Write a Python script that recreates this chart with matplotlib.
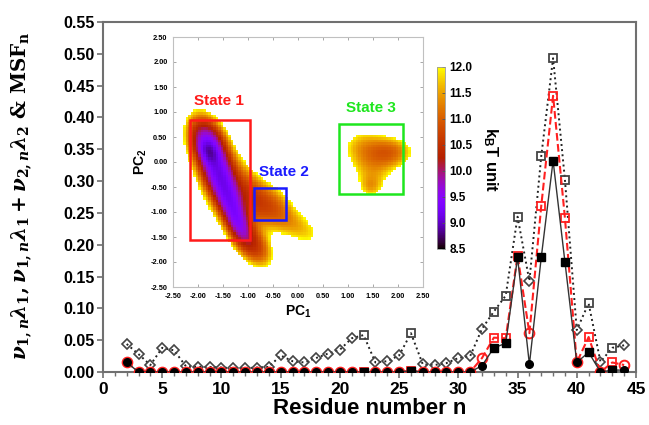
import numpy as np
import matplotlib
matplotlib.use("Agg")
import matplotlib.pyplot as plt
from matplotlib.patches import Rectangle

plt.rcParams['font.family'] = ['Liberation Sans', 'DejaVu Sans']
plt.rcParams['font.weight'] = 'bold'
plt.rcParams['mathtext.fontset'] = 'custom'
plt.rcParams['mathtext.rm'] = 'DejaVu Serif:bold'
plt.rcParams['mathtext.it'] = 'DejaVu Serif:italic:bold'
plt.rcParams['mathtext.bf'] = 'DejaVu Serif:bold'

# residue numbers 2..44
residues = np.arange(2, 45)
square_res = [22, 26, 33, 34, 35, 37, 38, 39, 41, 43]

# MSF_n (dotted, open grey markers)
msf = [0.044, 0.028, 0.011, 0.038, 0.034, 0.009, 0.008, 0.008, 0.007, 0.006,
       0.006, 0.007, 0.008, 0.026, 0.017, 0.015, 0.022, 0.029, 0.035, 0.053,
       0.058, 0.015, 0.017, 0.026, 0.061, 0.012, 0.011, 0.014, 0.022, 0.025,
       0.068, 0.095, 0.120, 0.244, 0.143, 0.339, 0.493, 0.302, 0.066, 0.108,
       0.016, 0.038, 0.042]
# v1n*l1 + v2n*l2 (dashed red, open markers)
mode12 = [0.016, 0, 0, 0, 0, 0, 0, 0, 0, 0,
          0, 0, 0, 0, 0, 0, 0, 0, 0, 0,
          0.0, 0, 0, 0, 0.002, 0, 0, 0, 0, 0,
          0.022, 0.054, 0.053, 0.183, 0.061, 0.261, 0.434, 0.242, 0.015, 0.055,
          0.0, 0.015, 0.011]
# v1n*l1 (solid, filled black markers)
mode1 = [0.015, 0, 0, 0, 0, 0, 0, 0, 0, 0,
         0, 0, 0, 0, 0, 0, 0, 0, 0, 0,
         0.0, 0, 0, 0, 0.002, 0, 0, 0, 0, 0,
         0.010, 0.038, 0.045, 0.180, 0.012, 0.180, 0.332, 0.173, 0.015, 0.031,
         0.0, 0.003, 0.003]

# free energy landscape components (PC1, PC2, min kT, sizes, angle)
blob_x = [-1.78, -1.80, -1.60, -1.40, -1.20, -1.50, -0.90, -1.00, -0.60, 0.00,
          1.30, 1.85, 1.50, 1.45]
blob_y = [0.20, 0.35, -0.20, -0.70, -1.20, -0.35, -1.65, -0.60, -0.85, -1.30,
          0.30, 0.20, -0.20, -0.50]
blob_f0 = [9.9, 9.6, 9.6, 9.7, 9.8, 11.0, 10.7, 11.4, 11.0, 11.7,
           11.6, 11.15, 11.75, 11.9]
blob_along = [0.15, 0.30, 0.30, 0.30, 0.28, 0.80, 0.30, 0.35, 0.35, 0.45,
              0.32, 0.20, 0.30, 0.15]
blob_perp = [0.10, 0.18, 0.17, 0.15, 0.13, 0.32, 0.18, 0.20, 0.25, 0.22,
             0.27, 0.30, 0.27, 0.15]
blob_angle = [-68, -68, -68, -68, -68, -68, -55, -68, -40, -30,
              0, 90, 0, 0]

state_names = ['State 1', 'State 2', 'State 3']
state_colors = ['#ff1a1a', '#1a1aff', '#1ee61e']
state_boxes = [(-2.17, -1.55, -0.96, 0.85), (-0.88, -1.15, -0.24, -0.51), (0.81, -0.64, 2.09, 0.76)]
state_label_xy = [(-1.59, 1.22), (-0.29, -0.19), (1.45, 1.09)]

cbar_ticks = [8.5, 9.0, 9.5, 10.0, 10.5, 11.0, 11.5, 12.0]
pc_ticks = [-2.5, -2.0, -1.5, -1.0, -0.5, 0.0, 0.5, 1.0, 1.5, 2.0, 2.5]

W, H = 649, 425
fig = plt.figure(figsize=(W / 100, H / 100), dpi=100)

# ---- main axes ----
ax = fig.add_axes([103 / W, 53 / H, 533 / W, 350 / H])
is_sq = np.isin(residues, square_res)
msf = np.array(msf); mode12 = np.array(mode12); mode1 = np.array(mode1)

ax.plot(residues, msf, ':', color='#222222', lw=1.4, zorder=2)
ax.plot(residues[is_sq], msf[is_sq], 's', ms=5.5, mfc='none', mec='#444444', mew=1.3, zorder=3)
ax.plot(residues[~is_sq], msf[~is_sq], 'D', ms=5, mfc='none', mec='#444444', mew=1.2, zorder=3)

ax.plot(residues, mode12, '--', color='#ff2020', lw=1.5, zorder=4)
ax.plot(residues[is_sq], mode12[is_sq], 's', ms=6, mfc='none', mec='#ff2020', mew=1.3, zorder=5)
ax.plot(residues[~is_sq], mode12[~is_sq], 'o', ms=7, mfc='none', mec='#ff2020', mew=1.4, zorder=5)

ax.plot(residues, mode1, '-', color='#333333', lw=1.0, zorder=6)
ax.plot(residues[is_sq], mode1[is_sq], 's', ms=5.5, color='black', zorder=7)
ax.plot(residues[~is_sq], mode1[~is_sq], 'o', ms=5.5, color='black', zorder=7)

ax.set_xlim(0, 45)
ax.set_ylim(0, 0.55)
ax.set_xticks(np.arange(0, 46, 5))
ax.set_xticks(np.arange(0, 46, 1), minor=True)
ax.set_yticks(np.arange(0, 0.551, 0.05))
ax.set_yticklabels(['%.2f' % v for v in np.arange(0, 0.551, 0.05)])
for s in ax.spines.values():
    s.set_color('#707070')
    s.set_linewidth(1.5)
ax.tick_params(axis='both', which='major', color='#707070', width=1.2, length=4)
ax.tick_params(axis='x', which='minor', color='#707070', width=1.0, length=3)
ax.tick_params(axis='x', labelsize=12.5, pad=3)
ax.tick_params(axis='y', labelsize=11.5, pad=2)
ax.set_xlabel('Residue number n', fontsize=16, fontweight='bold', labelpad=1)
fig.text(22 / W, 1 - 196 / H,
         r'$\nu_{1,n}\lambda_1, \nu_{1,n}\lambda_1 + \nu_{2,n}\lambda_2$ & MSF$_\mathrm{n}$',
         rotation=90, ha='center', va='center', fontsize=14.3,
         family='DejaVu Serif', fontweight='bold')

# ---- inset free energy landscape ----
ins = fig.add_axes([173 / W, (H - 287) / H, 250 / W, 250 / H])
g = np.linspace(-2.5, 2.5, 101)
gc = 0.5 * (g[:-1] + g[1:])
X, Y = np.meshgrid(gc, gc)
boltz = np.zeros_like(X)
for bx, by, f0, sa, sp, ang in zip(blob_x, blob_y, blob_f0, blob_along, blob_perp, blob_angle):
    t = np.deg2rad(ang)
    u = (X - bx) * np.cos(t) + (Y - by) * np.sin(t)
    v = -(X - bx) * np.sin(t) + (Y - by) * np.cos(t)
    boltz += np.exp(-(f0 + 0.5 * ((u / sa) ** 2 + (v / sp) ** 2)))
F = -np.log(boltz)
F = np.ma.masked_greater(F, 12.0)
cmap = plt.get_cmap('gnuplot').copy()
cmap.set_bad('white')
im = ins.pcolormesh(g, g, F, cmap=cmap, vmin=8.5, vmax=12.0, shading='flat')

for (x0, y0, x1, y1), c in zip(state_boxes, state_colors):
    ins.add_patch(Rectangle((x0, y0), x1 - x0, y1 - y0, fill=False, ec=c, lw=1.8, zorder=5))
for name, (tx, ty), c in zip(state_names, state_label_xy, state_colors):
    ins.text(tx, ty, name, color=c, fontsize=11, fontweight='bold', ha='center', va='center')

ins.set_xlim(-2.5, 2.5)
ins.set_ylim(-2.5, 2.5)
ins.set_xticks(pc_ticks)
ins.set_yticks(pc_ticks)
ins.set_xticklabels(['%.2f' % v for v in pc_ticks])
ins.set_yticklabels(['%.2f' % v for v in pc_ticks])
ins.tick_params(direction='in', length=2, width=0.6, color='#999999', labelsize=5.3, pad=4,
                top=True, right=True)
for s in ins.spines.values():
    s.set_color('#c0c0c0')
    s.set_linewidth(0.8)
ins.set_xlabel(r'PC$_\mathregular{1}$', fontsize=10, fontweight='bold', labelpad=3)
ins.set_ylabel(r'PC$_\mathregular{2}$', fontsize=10, fontweight='bold', labelpad=1)

# ---- colorbar ----
cax = fig.add_axes([437 / W, (H - 249) / H, 8.5 / W, 182 / H])
cb = fig.colorbar(im, cax=cax, ticks=cbar_ticks)
cb.ax.set_yticklabels(['%.1f' % v for v in cbar_ticks])
cb.ax.tick_params(labelsize=8.5, length=2, width=0.6, color='#555555', direction='in', pad=3)
cb.outline.set_edgecolor('#999999')
cb.outline.set_linewidth(0.6)
fig.text(490 / W, 1 - 160 / H, r'k$_\mathregular{B}$T unit', rotation=270, ha='center', va='center',
         fontsize=12, fontweight='bold')

fig.savefig('out.png', dpi=100)
